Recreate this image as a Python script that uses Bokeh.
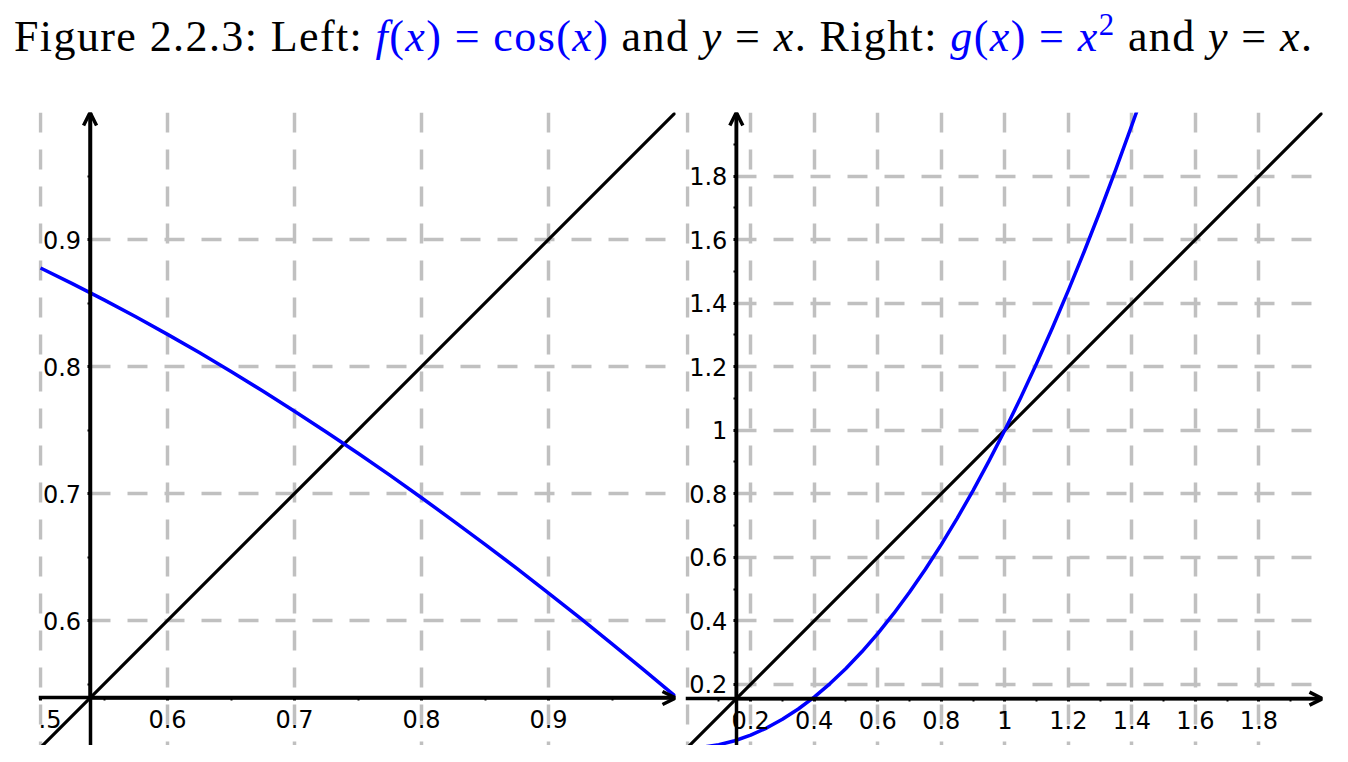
from bokeh.plotting import figure
from bokeh.models import FixedTicker, Arrow, OpenHead, Div, Spacer, Range1d
from bokeh.layouts import column, row
from bokeh.embed import file_html
from bokeh.resources import INLINE

# ---------------- data ----------------
# Left panel: f(x) = cos(x) and y = x
left_curve_x = [0.500, 0.525, 0.550, 0.575, 0.600, 0.625, 0.650, 0.675, 0.700, 0.725, 0.750,
                0.775, 0.800, 0.825, 0.850, 0.875, 0.900, 0.925, 0.950, 0.975, 1.000]
left_curve_y = [0.8776, 0.8653, 0.8525, 0.8392, 0.8253, 0.8110, 0.7961, 0.7807, 0.7648, 0.7485,
                0.7317, 0.7145, 0.6967, 0.6785, 0.6600, 0.6410, 0.6216, 0.6018, 0.5817, 0.5612,
                0.5403]
left_line_x = [0.45, 1.00]
left_line_y = [0.45, 1.00]
left_xticks = [0.5, 0.6, 0.7, 0.8, 0.9]
left_xlabels = [".5", "0.6", "0.7", "0.8", "0.9"]
left_xminor = [0.55, 0.65, 0.75, 0.85, 0.95]
left_yticks = [0.6, 0.7, 0.8, 0.9]
left_ylabels = ["0.6", "0.7", "0.8", "0.9"]
left_yminor = [0.55, 0.65, 0.75, 0.85, 0.95]
left_vgrid = [0.5, 0.6, 0.7, 0.8, 0.9]
left_hgrid = [0.6, 0.7, 0.8, 0.9]
left_axis_at = 0.539
left_xr = (0.4984, 1.0)
left_yr = (0.5016, 1.0)

# Right panel: g(x) = x^2 and y = x
right_curve_x = [0.00, 0.05, 0.10, 0.15, 0.20, 0.25, 0.30, 0.35, 0.40, 0.45, 0.50,
                 0.55, 0.60, 0.65, 0.70, 0.75, 0.80, 0.85, 0.90, 0.95, 1.00,
                 1.05, 1.10, 1.15, 1.20, 1.25, 1.30, 1.35, 1.40, 1.42]
right_curve_y = [0.0000, 0.0025, 0.0100, 0.0225, 0.0400, 0.0625, 0.0900, 0.1225, 0.1600,
                 0.2025, 0.2500, 0.3025, 0.3600, 0.4225, 0.4900, 0.5625, 0.6400, 0.7225,
                 0.8100, 0.9025, 1.0000, 1.1025, 1.2100, 1.3225, 1.4400, 1.5625, 1.6900,
                 1.8225, 1.9600, 2.0164]
right_line_x = [-0.05, 2.00]
right_line_y = [-0.05, 2.00]
right_xticks = [0.2, 0.4, 0.6, 0.8, 1.0, 1.2, 1.4, 1.6, 1.8]
right_xlabels = ["0.2", "0.4", "0.6", "0.8", "1", "1.2", "1.4", "1.6", "1.8"]
right_yticks = [0.2, 0.4, 0.6, 0.8, 1.0, 1.2, 1.4, 1.6, 1.8]
right_ylabels = ["0.2", "0.4", "0.6", "0.8", "1", "1.2", "1.4", "1.6", "1.8"]
right_minor = [0.1, 0.3, 0.5, 0.7, 0.9, 1.1, 1.3, 1.5, 1.7, 1.9]
right_vgrid = [0.0, 0.2, 0.4, 0.6, 0.8, 1.0, 1.2, 1.4, 1.6, 1.8]
right_hgrid = [0.2, 0.4, 0.6, 0.8, 1.0, 1.2, 1.4, 1.6, 1.8]
right_axis_at = 0.155
right_xr = (-0.005, 2.0)
right_yr = (0.0076, 2.0)

# ---------------- styling ----------------
FRAME_W = 637
FRAME_H = 633
GRID_COLOR = "#c0c0c0"
DASH = "20 17"
VDASH_OFFSET = (20 - FRAME_H) % 37
TICK_FONT = "DejaVu Sans"
TICK_SIZE = "24px"


def make_panel(xr, yr, axis_at, cx, cy, lx, ly, xticks, xlabels, xminor,
               yticks, ylabels, yminor, vgrid, hgrid, border_right):
    p = figure(frame_width=FRAME_W, frame_height=FRAME_H,
               x_range=Range1d(*xr), y_range=Range1d(*yr),
               output_backend="svg", toolbar_location=None, title=None,
               min_border_left=0, min_border_right=border_right,
               min_border_top=34, min_border_bottom=0)
    p.outline_line_color = None
    p.background_fill_color = "white"
    p.border_fill_color = "white"

    # grid
    p.xgrid.ticker = FixedTicker(ticks=vgrid)
    p.ygrid.ticker = FixedTicker(ticks=hgrid)
    for g in (p.xgrid, p.ygrid):
        g.grid_line_color = GRID_COLOR
        g.grid_line_width = 3.5
        g.grid_line_dash = DASH
    p.xgrid.grid_line_dash_offset = VDASH_OFFSET
    p.ygrid.cross_bounds = (axis_at, xr[1])

    # curves
    p.line(lx, ly, line_color="black", line_width=3.2)
    p.line(cx, cy, line_color="#0000ff", line_width=3.5, line_join="round")

    # axes
    p.xaxis.fixed_location = axis_at
    p.yaxis.fixed_location = axis_at
    p.xaxis.ticker = FixedTicker(ticks=xticks, minor_ticks=xminor)
    p.yaxis.ticker = FixedTicker(ticks=yticks, minor_ticks=yminor)
    p.xaxis.major_label_overrides = {t: s for t, s in zip(xticks, xlabels)}
    p.yaxis.major_label_overrides = {t: s for t, s in zip(yticks, ylabels)}
    for ax in (p.xaxis, p.yaxis):
        ax.axis_line_width = 3.5
        ax.axis_line_color = "black"
        ax.major_tick_in = 0
        ax.major_tick_out = 3
        ax.major_tick_line_width = 3
        ax.minor_tick_in = 0
        ax.minor_tick_out = 3
        ax.minor_tick_line_width = 2
        ax.major_label_text_font = TICK_FONT
        ax.major_label_text_font_size = TICK_SIZE
        ax.major_label_text_color = "black"
    p.xaxis.major_label_standoff = 9
    p.yaxis.major_label_standoff = 6

    # arrow heads at the axis ends
    p.add_layout(Arrow(end=OpenHead(size=13, line_width=3.5, line_color="black"),
                       x_start=axis_at, y_start=axis_at, x_end=xr[1], y_end=axis_at,
                       line_width=3.5, line_color="black"))
    p.add_layout(Arrow(end=OpenHead(size=13, line_width=3.5, line_color="black"),
                       x_start=axis_at, y_start=axis_at, x_end=axis_at, y_end=yr[1],
                       line_width=3.5, line_color="black"))
    return p


left = make_panel(left_xr, left_yr, left_axis_at, left_curve_x, left_curve_y,
                  left_line_x, left_line_y, left_xticks, left_xlabels, left_xminor,
                  left_yticks, left_ylabels, left_yminor, left_vgrid, left_hgrid, 5)
right = make_panel(right_xr, right_yr, right_axis_at, right_curve_x, right_curve_y,
                   right_line_x, right_line_y, right_xticks, right_xlabels, right_minor,
                   right_yticks, right_ylabels, right_minor, right_vgrid, right_hgrid, 8)

BLUE = "#0000ff"
title_html = (
    '<div style="font-family:\'Liberation Serif\',serif;font-size:44px;letter-spacing:1.4px;'
    'white-space:nowrap;padding-left:14px;padding-top:12px;color:black;line-height:50px;">'
    'Figure 2.2.3: Left: '
    f'<span style="color:{BLUE}"><i>f</i>(<i>x</i>) = cos(<i>x</i>)</span>'
    ' and <i>y</i> = <i>x</i>. Right: '
    f'<span style="color:{BLUE}"><i>g</i>(<i>x</i>) = <i>x</i>'
    '<sup style="font-size:0.7em;line-height:0;">2</sup></span>'
    ' and <i>y</i> = <i>x</i>.'
    '</div>'
)
title = Div(text=title_html, width=1340, height=78, margin=(0, 0, 0, 0))

layout = column(title, row(Spacer(width=38), left, Spacer(width=5), right))

open("out.html", "w").write(file_html(layout, INLINE))
